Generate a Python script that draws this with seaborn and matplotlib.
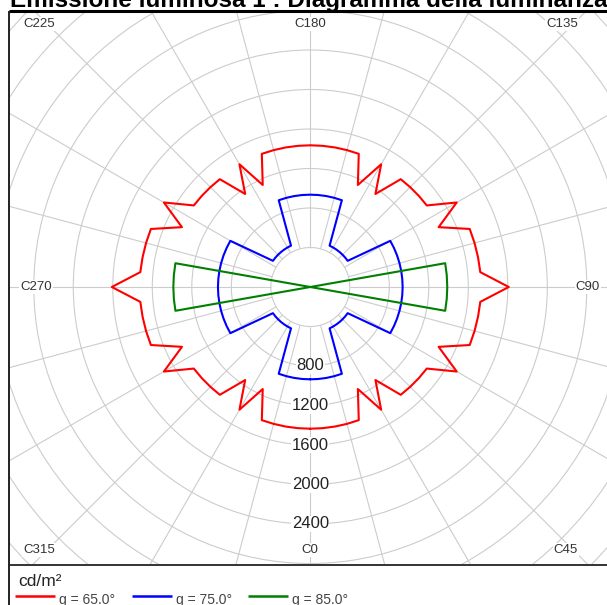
import numpy as np
import pandas as pd
import matplotlib.pyplot as plt
import seaborn as sns
from matplotlib.patches import Rectangle

# C-plane angles in degrees (C0 at the bottom, C90 on the right)
c_angles = list(range(0, 365, 5))

# luminance (cd/m2) per C-plane, one list per gamma angle
lum_g65 = [1435, 1435, 1435, 1435, 1435, 1140, 1435, 1150, 1425, 1430, 1435, 1440, 1712, 1434, 1718, 1722, 1725, 1728, 2010,
           1728, 1725, 1722, 1718, 1434, 1712, 1440, 1435, 1430, 1425, 1150, 1435, 1140, 1435, 1435, 1435, 1435, 1435,
           1435, 1435, 1435, 1435, 1140, 1435, 1150, 1425, 1430, 1435, 1440, 1712, 1434, 1718, 1722, 1725, 1728, 2010,
           1728, 1725, 1722, 1718, 1434, 1712, 1440, 1435, 1430, 1425, 1150, 1435, 1140, 1435, 1435, 1435, 1435, 1435]
lum_g75 = [935, 935, 935, 935, 935, 462, 462, 462, 462, 462, 462, 462, 935, 935, 935, 935, 935, 935, 935,
           935, 935, 935, 935, 935, 935, 462, 462, 462, 462, 462, 462, 462, 935, 935, 935, 935, 935,
           935, 935, 935, 935, 462, 462, 462, 462, 462, 462, 462, 935, 935, 935, 935, 935, 935, 935,
           935, 935, 935, 935, 935, 935, 462, 462, 462, 462, 462, 462, 462, 935, 935, 935, 935, 935]
lum_g85 = [0, 0, 0, 0, 0, 0, 0, 0, 0, 0, 0, 0, 0, 0, 0, 0, 1387, 1387, 1387,
           1387, 1387, 0, 0, 0, 0, 0, 0, 0, 0, 0, 0, 0, 0, 0, 0, 0, 0,
           0, 0, 0, 0, 0, 0, 0, 0, 0, 0, 0, 0, 0, 0, 0, 1387, 1387, 1387,
           1387, 1387, 0, 0, 0, 0, 0, 0, 0, 0, 0, 0, 0, 0, 0, 0, 0, 0]

series_names = ['g = 65.0°', 'g = 75.0°', 'g = 85.0°']
series_colors = ['#ff0000', '#0000ff', '#008000']

ring_values = [400, 800, 1200, 1600, 2000, 2400, 2800, 3200, 3600, 4000]
ring_labels = [800, 1200, 1600, 2000, 2400]
spoke_angles = list(range(0, 360, 15))
corner_labels = ['C180', 'C225', 'C135', 'C270', 'C90', 'C315', 'C0', 'C45']

df = pd.concat([
    pd.DataFrame({'C': c_angles, 'L': vals, 'gamma': name})
    for vals, name in zip([lum_g65, lum_g75, lum_g85], series_names)
])
df['theta'] = np.deg2rad(df['C'])

sns.set_theme(style='white')
plt.rcParams['font.family'] = ['Liberation Sans', 'DejaVu Sans']

W, H = 607, 605
fig = plt.figure(figsize=(W / 100, H / 100), dpi=100, facecolor='white')

# polar axes bigger than the frame, the frame crops it
cx, cy, R = 310.3, 287.0, 430.0
rmax = R / 0.09875
pax = fig.add_axes([(cx - R) / W, (H - cy - R) / H, 2 * R / W, 2 * R / H],
                   projection='polar', zorder=0)
pax.set_theta_zero_location('S')
pax.set_theta_direction(1)
pax.set_facecolor('white')
pax.spines['polar'].set_visible(False)

grid_c = '#cccccc'
pax.set_xticks([])
pax.set_yticks(ring_values)
pax.set_yticklabels([])
pax.yaxis.grid(True, color=grid_c, lw=0.8)
pax.vlines(np.deg2rad(spoke_angles), 400, rmax, colors=grid_c, lw=0.8, zorder=0.8)

for v in ring_labels:
    pax.text(0, v, str(v), ha='center', va='center', fontsize=12, color='#222222',
             zorder=1.5, bbox=dict(fc='white', ec='none', pad=0.4))

sns.lineplot(data=df, x='theta', y='L', hue='gamma', palette=series_colors,
             sort=False, estimator=None, ax=pax, legend=False, linewidth=1.5, zorder=3)
pax.set_xlabel('')
pax.set_ylabel('')
pax.set_ylim(0, rmax)

# overlay in pixel coordinates: masks, frame, texts, legend
ov = fig.add_axes([0, 0, 1, 1], zorder=2)
ov.set_xlim(0, W)
ov.set_ylim(H, 0)
ov.axis('off')
ov.patch.set_visible(False)
for rect in [(0, 0, W, 11), (0, 0, 9, H), (0, 565, W, H - 565)]:
    ov.add_patch(Rectangle(rect[:2], rect[2], rect[3], fc='white', ec='none'))
ov.hlines(11, 9, W, color='black', lw=2.2)
ov.hlines(565, 9, W, color='#333333', lw=1.4)
ov.vlines(9, 11, H, color='#222222', lw=1.4)

label_pos = [(310, 24), (39, 24), (562, 24), (36, 287), (588, 287), (39, 550), (310, 550), (566, 550)]
for txt, (x, y) in zip(corner_labels, label_pos):
    ov.text(x, y, txt, ha='center', va='center', fontsize=9.5, color='#333333',
            bbox=dict(fc='white', ec='none', pad=0.6))

ov.text(10, 7.5, 'Emissione luminosa 1 : Diagramma della luminanza', fontsize=17.5,
        fontweight='bold', va='baseline', ha='left', color='black')
ov.text(18, 582, 'cd/m²', fontsize=12.5, va='center', ha='left', color='#222222')

# legend row: swatch line sits near the top of the label text
legend_x = [15, 132, 248]
for name, col, x0 in zip(series_names, series_colors, legend_x):
    ov.plot([x0, x0 + 40], [596, 596], color=col, lw=1.8, solid_capstyle='butt')
    ov.text(x0 + 44, 600, name, fontsize=10, va='center', ha='left', color='#444444')

fig.savefig('out.png', dpi=100, facecolor='white')
